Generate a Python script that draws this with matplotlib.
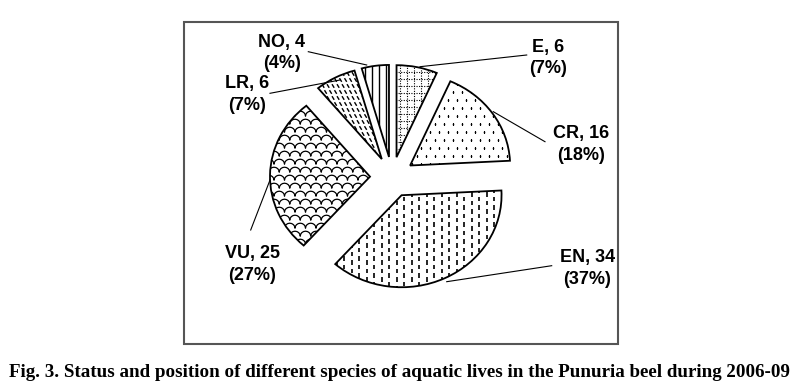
import numpy as np
import matplotlib
matplotlib.use('Agg')
import matplotlib.pyplot as plt
from matplotlib.collections import LineCollection
from matplotlib.patches import Rectangle

# ---------------- data ----------------
categories = ['E', 'CR', 'EN', 'VU', 'LR', 'NO']
counts = [6, 16, 34, 25, 6, 4]
percents = [7, 18, 37, 27, 7, 4]
caption = ('Fig. 3. Status and position of different species of aquatic lives '
           'in the Punuria beel during 2006-09')

# ---------------- layout ----------------
W, H = 802, 387
fig = plt.figure(figsize=(W / 100, H / 100), dpi=100)

RX, RY = 100.0, 92.0      # pie radius in px (horizontal / vertical)
CX, CY = 392.0, 177.0     # pie centre in image px (y down)
axp = fig.add_axes([(CX - 2 * RX) / W, (H - CY - 2 * RY) / H, 4 * RX / W, 4 * RY / H])
wedges, _ = axp.pie(counts, startangle=90, counterclock=False,
                    explode=[0.22] * len(counts), colors=['white'] * len(counts),
                    wedgeprops=dict(edgecolor='black', linewidth=1.3))
axp.set_xlim(-2, 2)
axp.set_ylim(-2, 2)
axp.set_aspect('auto')
axp.axis('off')


def px(v):
    return v / RX


def py(v):
    return v / RY


def add_segs(segs, wedge, **kw):
    lc = LineCollection(segs, colors='black', **kw)
    axp.add_collection(lc, autolim=False)
    lc.set_clip_path(wedge)
    lc.set_zorder(wedge.get_zorder() + 0.5)


LO, HI = -1.6, 1.6
wd = dict(zip(categories, wedges))

# E : dotted grid
segs = [[(x, LO), (x, HI)] for x in np.arange(LO, HI, px(7))]
segs += [[(LO, y), (HI, y)] for y in np.arange(LO, HI, py(7))]
add_segs(segs, wd['E'], linewidths=0.8, linestyles=[(0, (1, 1.3))])

# CR : sparse dots
xs, ys = [], []
for i, y in enumerate(np.arange(LO, HI, py(8))):
    off = px(4.5) if i % 2 else 0
    for x in np.arange(LO + off, HI, px(9)):
        xs.append(x)
        ys.append(y)
ln, = axp.plot(xs, ys, ls='none', marker='s', ms=1.1, mew=0, color='black')
ln.set_clip_path(wd['CR'])

# EN : dashed vertical lines (staggered)
segs = []
for i, x in enumerate(np.arange(LO, HI, px(7.5))):
    off = py(4) if i % 2 else 0
    for y in np.arange(LO + off, HI, py(8.5)):
        segs.append([(x, y), (x, y + py(4.5))])
add_segs(segs, wd['EN'], linewidths=1.2)

# VU : scale pattern
segs = []
w, h, v = 10.5, 5.0, 8.0
t = np.linspace(0, np.pi, 9)
for i, y0 in enumerate(np.arange(LO, HI, py(v))):
    off = w / 2 if i % 2 else 0
    pts = []
    for x0 in np.arange(LO * RX - off, HI * RX, w):
        xx = x0 + w / 2 * (1 - np.cos(t))
        yy = y0 + py(h) * np.sin(t)
        pts.extend(zip(xx / RX, yy))
    segs.append(pts)
add_segs(segs, wd['VU'], linewidths=0.9)

# LR : short diagonal dashes
segs = []
for i, y in enumerate(np.arange(LO, HI, py(6))):
    off = px(2.5) if i % 2 else 0
    for x in np.arange(LO + off, HI, px(5)):
        segs.append([(x, y), (x + px(2.2), y - py(3.6))])
add_segs(segs, wd['LR'], linewidths=1.0)

# NO : vertical lines
segs = [[(x, LO), (x, HI)] for x in np.arange(LO, HI, px(7))]
add_segs(segs, wd['NO'], linewidths=1.0)

# ---------------- overlay (pixel coordinates) ----------------
ax = fig.add_axes([0, 0, 1, 1])
ax.set_xlim(0, W)
ax.set_ylim(H, 0)
ax.axis('off')

ax.add_patch(Rectangle((184, 22), 434, 322, fill=False, edgecolor='#555555', linewidth=1.5))

label_layout = {
    'E': (548, 52, 73),
    'CR': (581.5, 138, 160),
    'EN': (587.5, 262, 284),
    'VU': (252.5, 258, 280),
    'LR': (247, 88, 110),
    'NO': (282, 47, 68),
}
leaders = {
    'E': ((526.7, 55), (420, 66.7)),
    'CR': ((545, 141.7), (493.3, 111.7)),
    'EN': ((551.7, 265.7), (446.7, 281.7)),
    'VU': ((250.7, 230), (270, 180)),
    'LR': ((270, 93.3), (340, 80)),
    'NO': ((308.3, 51.7), (366.7, 65)),
}
tk = dict(family=['Liberation Sans', 'DejaVu Sans'], weight='bold', fontsize=13,
          ha='center', va='baseline', color='black')
for cat, cnt, pct in zip(categories, counts, percents):
    x, b1, b2 = label_layout[cat]
    ax.text(x, b1, f'{cat}, {cnt}', **tk)
    ax.text(x, b2, f'({pct}%)', **tk)
    (x0, y0), (x1, y1) = leaders[cat]
    ax.plot([x0, x1], [y0, y1], color='black', lw=0.8)

cap = ax.text(399, 377, caption, family=['Liberation Serif', 'DejaVu Serif'],
              weight='bold', fontsize=13, ha='center', va='baseline', color='black')
r = fig.canvas.get_renderer()
wpx = cap.get_window_extent(renderer=r).width
cap.set_fontsize(13 * 778 / wpx)

fig.savefig('out.png', dpi=100)
